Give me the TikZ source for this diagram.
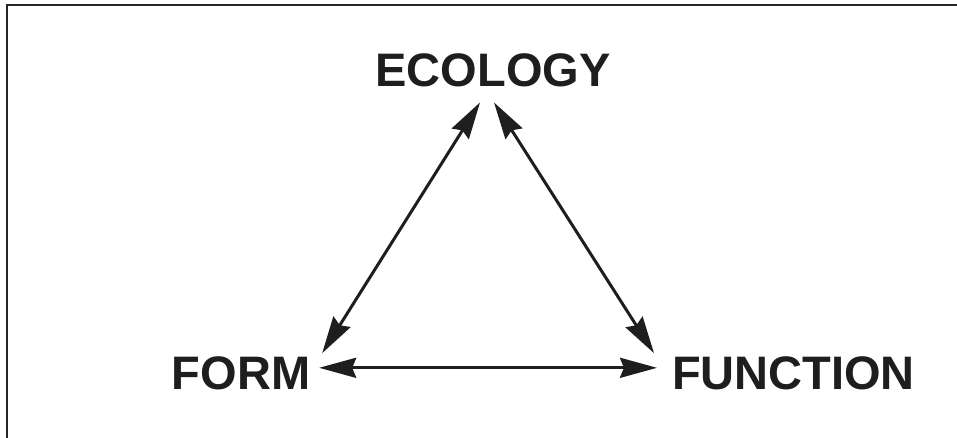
\documentclass[tikz,border=0pt]{standalone}
\usepackage{fontspec}
\setmainfont{Liberation Sans}
\usepackage{tikz}
\usetikzlibrary{arrows.meta}
\definecolor{inkgray}{HTML}{1E1E1E}

\begin{document}
\begin{tikzpicture}[
      x=1pt,y=1pt,
      word/.style={inner sep=0pt,outer sep=0pt,text=inkgray,font=\fontsize{47}{47}\selectfont\bfseries},
      link/.style={{Stealth[length=37pt,width=20pt,inset=4pt]}-{Stealth[length=37pt,width=20pt,inset=4pt]},line width=3pt,draw=inkgray}
    ]
    \useasboundingbox (0,0) rectangle (957,438);
    \draw[line width=2.2pt,draw=black!85] (957,433) -- (7,433) -- (7,0);
    \node[word,anchor=base] (eco) at (493,351) {ECOLOGY};
    \node[word,anchor=base] (form) at (241,48) {FORM};
    \node[word,anchor=base west] (func) at (672,48) {FUNCTION};
    \draw[link] ([shift={(12,4)}]form.north east) -- ([shift={(-13,-15)}]eco.south);
    \draw[link] ([shift={(1,-15)}]eco.south) -- ([shift={(-18,4)}]func.north west);
    \draw[link] ([shift={(9,6)}]form.east) -- ([shift={(-15,6)}]func.west);
  \end{tikzpicture}
\end{document}
